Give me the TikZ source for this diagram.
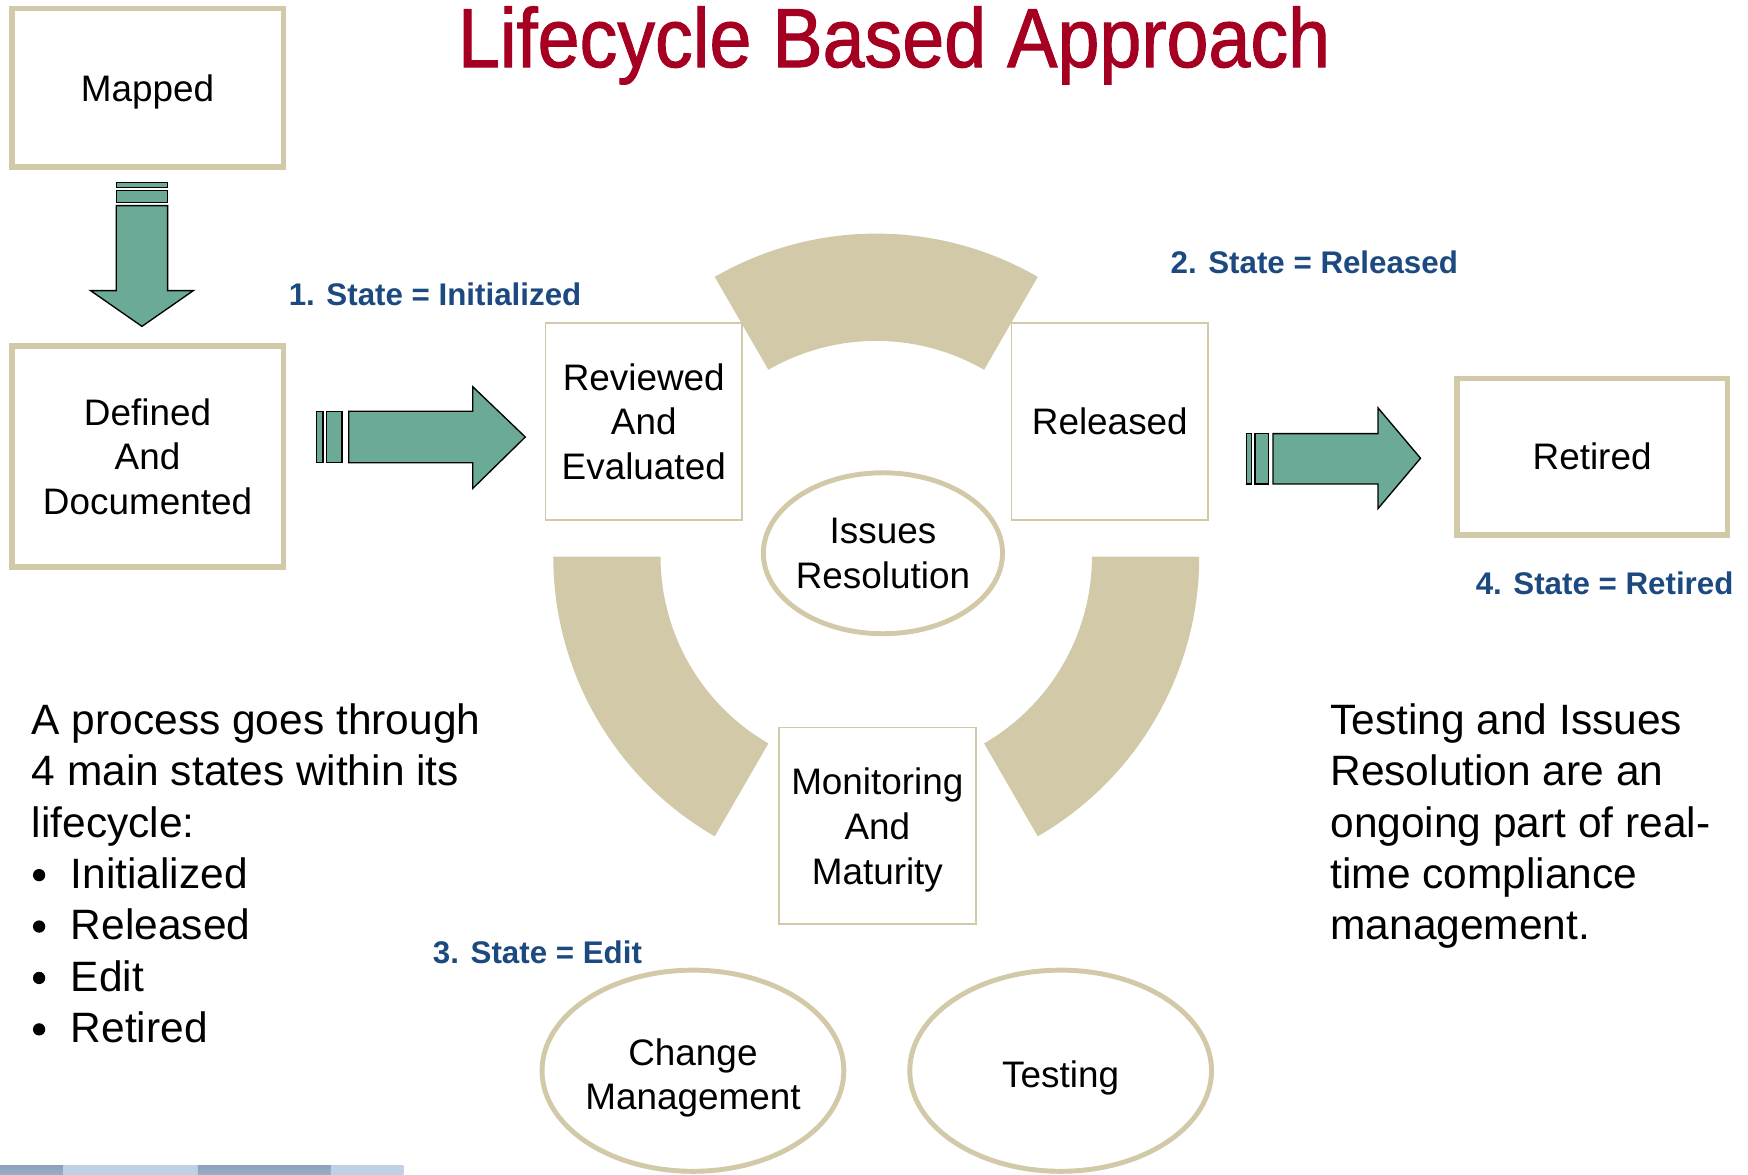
\documentclass[tikz,border=0pt]{standalone}
\usepackage{fontspec}
\setmainfont{Liberation Sans}
\newfontfamily\titlefont[FakeStretch=0.9,FakeBold=1.2]{Liberation Sans}
\usetikzlibrary{calc}
\definecolor{tan}{RGB}{209,201,167}
\definecolor{arrowgreen}{RGB}{106,170,150}
\definecolor{titlered}{RGB}{165,0,33}
\definecolor{stateblue}{RGB}{28,74,128}
\definecolor{bardark}{RGB}{88,122,160}
\definecolor{barlight}{RGB}{165,190,218}
\begin{document}
\begin{tikzpicture}[x=0.5pt,y=-0.5pt,
  boxfont/.style={font=\fontsize{16.5}{20}\selectfont,text depth=0pt},
  thickbox/.style={draw=tan,line width=2.5pt,fill=white,inner sep=0pt,align=center,boxfont},
  thinbox/.style={draw=tan,line width=0.8pt,fill=white,inner sep=0pt,align=center,boxfont,minimum width=88pt,minimum height=88pt},
  ellborder/.style={draw=tan,line width=2.2pt},
  ctext/.style={inner sep=0pt,align=center,boxfont},
  blockarrow/.style={fill=arrowgreen,draw=black,line width=0.6pt,line join=miter},
  statelabel/.style={text=stateblue,font=\bfseries\fontsize{14}{16}\selectfont,inner sep=0pt,anchor=base west},
  bodytext/.style={font=\fontsize{19}{23}\selectfont,inner sep=0pt,anchor=base west},
  bulletdot/.style={circle,fill=black,inner sep=0pt,minimum size=5.5pt},
]
\useasboundingbox[fill=white] (0,0) rectangle (1564,1051.3);

% title
\node[font=\titlefont\fontsize{37.5}{40}\selectfont,text=titlered,anchor=base,inner sep=0pt] (title) at (800,60) {Lifecycle Based Approach};

% ring segments
\coordinate (ringc) at (784,498);
\fill[tan] ($(ringc)+(240:289)$) arc[start angle=240,end angle=300,radius=289]
  -- ($(ringc)+(300:193)$) arc[start angle=300,end angle=240,radius=193] -- cycle;
\fill[tan] ($(ringc)+(120:289)$) arc[start angle=120,end angle=180,radius=289]
  -- ($(ringc)+(180:193)$) arc[start angle=180,end angle=120,radius=193] -- cycle;
\fill[tan] ($(ringc)+(0:289)$) arc[start angle=0,end angle=60,radius=289]
  -- ($(ringc)+(60:193)$) arc[start angle=60,end angle=0,radius=193] -- cycle;

% thick boxes
\node[thickbox,minimum width=121.5pt,minimum height=71pt] (mapped) at (132,78.5) {Mapped};
\node[thickbox,minimum width=121.5pt,minimum height=99pt] (defined) at (132,408.5) {Defined\\And\\Documented};
\node[thickbox,minimum width=121pt,minimum height=70pt] (retired) at (1424.5,408.5) {Retired};

% thin boxes
\node[thinbox] (reviewed) at (576,377) {Reviewed\\And\\Evaluated};
\node[thinbox] (released) at (993,377) {Released};
\node[thinbox] (monitoring) at (785,739) {Monitoring\\And\\Maturity};

% ellipses
\node[ctext] (issues) at (790,495) {Issues\\Resolution};
\draw[ellborder] (issues.center) ellipse [x radius=107,y radius=72];
\node[ctext] (change) at (620,961) {Change\\Management};
\draw[ellborder] (620,958) ellipse [x radius=135,y radius=90];
\node[ctext] (testing) at (949,961) {Testing};
\draw[ellborder] (949,958) ellipse [x radius=135,y radius=90];

% down arrow Mapped -> Defined
\draw[blockarrow] (104,163) rectangle (150,168);
\draw[blockarrow] (104,170.5) rectangle (150,181);
\draw[blockarrow] (104,184) -- (150,184) -- (150,260) -- (173,260) -- (127,292) -- (81,260) -- (104,260) -- cycle;

% arrow Defined -> Reviewed
\draw[blockarrow] (283,368) rectangle (289,414);
\draw[blockarrow] (292,368) rectangle (306,414);
\draw[blockarrow] (312,368) -- (423,368) -- (423,346) -- (470,391) -- (423,437) -- (423,414) -- (312,414) -- cycle;

% arrow Released -> Retired
\draw[blockarrow] (1115,388) rectangle (1120,433);
\draw[blockarrow] (1123,388) rectangle (1135,433);
\draw[blockarrow] (1139,388) -- (1233,388) -- (1233,365) -- (1271,410) -- (1233,455) -- (1233,433) -- (1139,433) -- cycle;

% state labels
\node[statelabel] (s1) at (258,273.5) {1. State = Initialized};
\node[statelabel] (s2) at (1047,244.5) {2. State = Released};
\node[statelabel] (s3) at (387,862.5) {3. State = Edit};
\node[statelabel] (s4) at (1320,531.5) {4. State = Retired};

% left text
\node[bodytext] (l1) at (28,657) {A process goes through};
\node[bodytext] (l2) at (28,703) {4 main states within its};
\node[bodytext] (l3) at (28,749) {lifecycle:};
\foreach \t [count=\i] in {Initialized,Released,Edit,Retired}{
  \node[bulletdot] (bul\i) at (35,{783+46*(\i-1)}) {};
  \node[bodytext] (item\i) at (63,{795+46*(\i-1)}) {\t};
}

% right text
\node[bodytext] (r1) at (1190,657) {Testing and Issues};
\node[bodytext] (r2) at (1190,703) {Resolution are an};
\node[bodytext] (r3) at (1190,749) {ongoing part of real-};
\node[bodytext] (r4) at (1190,795) {time compliance};
\node[bodytext] (r5) at (1190,841) {management.};

% bottom bar
\shade[top color=bardark!70!white,middle color=bardark,bottom color=bardark!60!white] (0,1043) rectangle (57,1051.3);
\shade[top color=barlight!70!white,middle color=barlight,bottom color=barlight!70!white] (57,1043) rectangle (177,1051.3);
\shade[top color=bardark!70!white,middle color=bardark,bottom color=bardark!60!white] (177,1043) rectangle (296,1051.3);
\shade[top color=barlight!70!white,middle color=barlight,bottom color=barlight!70!white] (296,1043) rectangle (361,1051.3);
\end{tikzpicture}
\end{document}
